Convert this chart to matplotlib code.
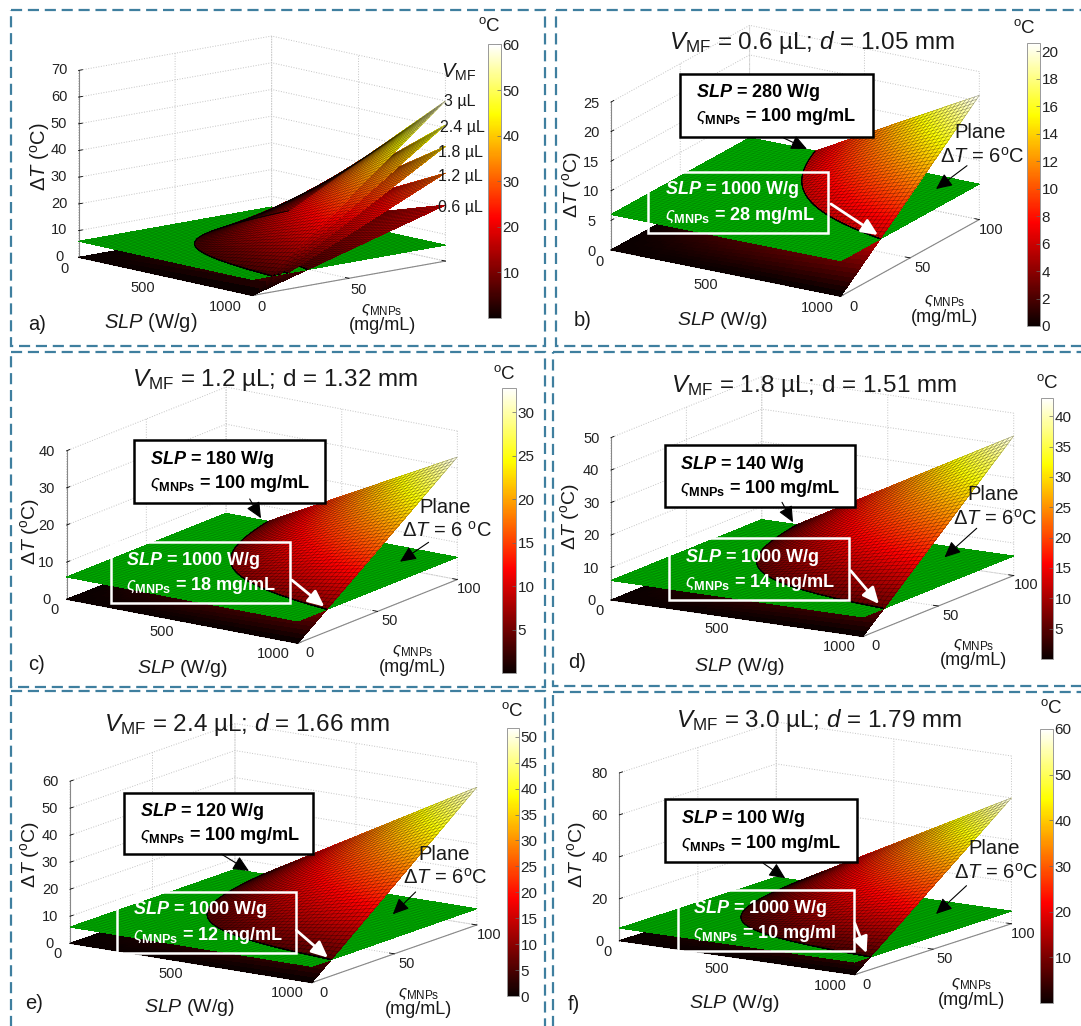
import numpy as np
import matplotlib
matplotlib.use("Agg")
import matplotlib.pyplot as plt
from matplotlib.patches import Rectangle
from matplotlib.cm import ScalarMappable
from matplotlib.colors import Normalize
from mpl_toolkits.mplot3d import proj3d

plt.rcParams.update({
    'font.family': ['Liberation Sans', 'DejaVu Sans'],
    'mathtext.fontset': 'custom',
    'mathtext.rm': 'Liberation Sans',
    'mathtext.it': 'Liberation Sans:italic',
    'mathtext.bf': 'Liberation Sans:bold',
    'mathtext.bfit': 'Liberation Sans:italic:bold',
    'mathtext.default': 'regular',
})

# ---------- data ----------
plane_dT = 6.0
slp_range = [0, 1000]
conc_range = [0, 100]
slp_ticks = [0, 500, 1000]
conc_ticks = [0, 50, 100]

volumes = ['0.6', '1.2', '1.8', '2.4', '3.0']
vol_labels = ['0.6 µL', '1.2 µL', '1.8 µL', '2.4 µL', '3 µL']
diameters = ['1.05', '1.32', '1.51', '1.66', '1.79']
peak_dT = [21.0, 33.0, 43.0, 51.0, 60.0]
slp_at_100 = [280, 180, 140, 120, 100]
conc_at_1000 = [28, 18, 14, 12, 10]

z_ticks_a = [0, 10, 20, 30, 40, 50, 60, 70]
z_ticks_b = [0, 5, 10, 15, 20, 25]
z_ticks_c = [0, 10, 20, 30, 40]
z_ticks_d = [0, 10, 20, 30, 40, 50]
z_ticks_e = [0, 10, 20, 30, 40, 50, 60]
z_ticks_f = [0, 20, 40, 60, 80]

cb_ticks_a = [10, 20, 30, 40, 50, 60]
cb_ticks_b = [0, 2, 4, 6, 8, 10, 12, 14, 16, 18, 20]
cb_ticks_c = [5, 10, 15, 20, 25, 30]
cb_ticks_d = [5, 10, 15, 20, 25, 30, 35, 40]
cb_ticks_e = [0, 5, 10, 15, 20, 25, 30, 35, 40, 45, 50]
cb_ticks_f = [10, 20, 30, 40, 50, 60]
cb_top = [60.0, 20.6, 32.8, 43.0, 51.7, 60.0]

# ---------- layout (pixels) ----------
W, H = 1081, 1026
fig = plt.figure(figsize=(W / 100, H / 100), dpi=100, facecolor='white')
ov = fig.add_axes([0, 0, 1, 1], zorder=20)
ov.set_xlim(0, W); ov.set_ylim(H, 0); ov.axis('off'); ov.patch.set_visible(False)

FRAME = '#3f7f9f'
frames = [(11, 10, 545, 346), (556, 10, 1095, 346), (11, 352, 545, 687),
          (553, 352, 1095, 686), (11, 691, 545, 1040), (553, 692, 1095, 1040)]
for x0, y0, x1, y1 in frames:
    ov.add_patch(Rectangle((x0, y0), x1 - x0, y1 - y0, fill=False, ec=FRAME, lw=1.6,
                           ls=(0, (5, 2.6)), clip_on=False))

cmap = plt.get_cmap('hot')
GREEN = '#00a800'
FS_TICK = 10.5
FS_BOX = 13


def place(ax, left, front, corner_l, corner_f):
    for _ in range(3):
        ax.apply_aspect()
        M = ax.get_proj()
        pts = []
        for c in (corner_l, corner_f):
            x, y, _z = proj3d.proj_transform(*c, M)
            pts.append(ax.transData.transform((x, y)))
        pL, pF = np.array(pts)
        tL = np.array([left[0], H - left[1]], float)
        tF = np.array([front[0], H - front[1]], float)
        s = np.linalg.norm(tF - tL) / np.linalg.norm(pF - pL)
        p = ax.get_position()
        side = p.width * W
        cen = np.array([(p.x0 + p.width / 2) * W, (p.y0 + p.height / 2) * H])
        pLn = cen + (pL - cen) * s
        cen2 = cen + (tL - pLn)
        side *= s
        ax.set_position([(cen2[0] - side / 2) / W, (cen2[1] - side / 2) / H, side / W, side / H])


def surf_low(ax, peak, vmax, n=46):
    s = np.linspace(*slp_range, n); c = np.linspace(*conc_range, n)
    S, C = np.meshgrid(s, c)
    Z = peak * S / slp_range[1] * C / conc_range[1]
    ax.plot_surface(S, C, Z, facecolors=cmap(Z / vmax), rstride=1, cstride=1, shade=False,
                    linewidth=0, antialiased=False, zorder=2)


def surf_high(ax, peak, vmax, zo, n=51):
    # rectangular mesh whose nodes below the plane are pulled onto the plane's intersection curve
    c0 = conc_range[1] * plane_dT / peak
    S, C = np.meshgrid(np.linspace(*slp_range, n), np.linspace(*conc_range, n))
    C = np.maximum(C, c0)
    S0 = slp_range[1] * plane_dT / (peak * C / conc_range[1])
    S = np.maximum(S, S0)
    Z = peak * S / slp_range[1] * C / conc_range[1]
    ax.plot_surface(S, C, Z, facecolors=cmap(Z / vmax), rstride=1, cstride=1, shade=False,
                    linewidth=0, antialiased=False, zorder=zo)
    ax.plot_wireframe(S, C, Z, rstride=1, cstride=1, color='black', linewidth=0.4, alpha=0.42, zorder=zo + 0.5)


def plane(ax, n=50):
    s = np.linspace(*slp_range, n); c = np.linspace(*conc_range, n)
    S, C = np.meshgrid(s, c)
    Z = np.full_like(S, plane_dT)
    ax.plot_surface(S, C, Z, color=GREEN, rstride=1, cstride=1, shade=False,
                    linewidth=0, antialiased=False, zorder=3)
    ax.plot_wireframe(S, C, Z, rstride=1, cstride=1, color='#003000', linewidth=0.25, alpha=0.35, zorder=3.5)


def axes3d(cfg):
    ax = fig.add_axes([0.2, 0.2, 0.4, 0.4 * W / H], projection='3d', computed_zorder=False, proj_type='ortho')
    ax.patch.set_visible(False)
    ax.view_init(elev=cfg['el'], azim=cfg['az'])
    ax.set_box_aspect((1, 1, cfg['ratio']), zoom=1)
    ztop = cfg['zt'][-1]
    ax.set_xlim(*slp_range, view_margin=0); ax.set_ylim(*conc_range, view_margin=0); ax.set_zlim(0, ztop, view_margin=0)
    ax.set_xticks(slp_ticks); ax.set_yticks(conc_ticks); ax.set_zticks(cfg['zt'])
    for a in (ax.xaxis, ax.yaxis, ax.zaxis):
        a.set_pane_color((1, 1, 1, 0))
        a.pane.set_edgecolor('#c8c8c8'); a.pane.set_linestyle(':'); a.pane.set_linewidth(0.8)
        a._axinfo['grid'].update(color='#c4c4c4', linewidth=0.7, linestyle=':')
        a.line.set_color('#888888'); a.line.set_linewidth(0.8)
        a._axinfo['tick'].update(inward_factor=0.0, outward_factor=0.25, linewidth={True: 0.6, False: 0.5}, color='#666666')
        a.set_tick_params(labelsize=FS_TICK, labelcolor='#222222', pad=cfg.get('pad', 0))
    ax.zaxis.set_ticks_position('lower')
    ax.zaxis.set_label_position('lower')
    ax.set_xticklabels([str(v) for v in slp_ticks], ha='right', va='center')
    ylabs = [str(v) for v in conc_ticks]
    if cfg.get('hide_y_top'):
        ylabs[-1] = ''
    ax.set_yticklabels(ylabs, ha='center', va='center')
    ax.set_zticklabels([str(v) for v in cfg['zt']], ha='center', va='center')
    return ax


def finish(ax, cfg):
    place(ax, cfg['L'], cfg['F'], (slp_range[0], conc_range[0], 0), (slp_range[1], conc_range[0], 0))


def cbar(box, top, ticks):
    x0, y0, x1, y1 = box
    cax = fig.add_axes([x0 / W, 1 - y1 / H, (x1 - x0) / W, (y1 - y0) / H])
    sm = ScalarMappable(Normalize(0, top), cmap)
    cb = fig.colorbar(sm, cax=cax, ticks=ticks)
    cb.outline.set_edgecolor('#999999'); cb.outline.set_linewidth(0.7)
    cax.tick_params(labelsize=11, length=3, width=0.5, color='#666666', direction='in', pad=1, labelcolor='#222222')


def T(x, y, s, size=12, ha='center', va='center', **kw):
    ov.text(x, y, s, fontsize=size, ha=ha, va=va, color=kw.pop('color', '#1a1a1a'), **kw)


def arrow(p, q, col, lw, ms=14):
    ov.annotate('', xy=q, xytext=p, annotation_clip=False,
                arrowprops=dict(arrowstyle='-|>,head_width=0.32,head_length=0.7', color=col, lw=lw,
                                shrinkA=0, shrinkB=0, mutation_scale=ms))


DT = r'$\Delta\mathit{T}$ ($^{\mathrm{o}}$C)'
SLPL = r'$\mathit{SLP}$ (W/g)'
CONC = r'$\mathit{\varsigma}_{\mathrm{MNPs}}$'

# ---------- panel a ----------
cfg_a = dict(el=11.4, az=-42, ratio=0.734, zt=z_ticks_a, L=(78.6, 257.3), F=(252.5, 295), hide_y_top=True)
ax = axes3d(cfg_a)
for p in peak_dT:
    surf_low(ax, p, peak_dT[-1], n=30)
plane(ax)
for i, p in enumerate(peak_dT):
    surf_high(ax, p, peak_dT[-1], 5 + i)
finish(ax, cfg_a)
cbar((487.5, 44.5, 501, 318), cb_top[0], cb_ticks_a)
T(40, 157, DT, 14.5, rotation=90)
T(151, 322.5, SLPL, 14.5)
T(382, 310, CONC, 12); T(382, 326, '(mg/mL)', 13)
T(28, 324, 'a)', 14.5, ha='left')
T(489, 26, '$^{\\mathrm{o}}$C', 13.5)
T(441, 72, r'$\mathit{V}_{\mathrm{MF}}$', 14.5, ha='left')
for lab, (x, y) in zip(vol_labels, [(437.7, 207.3), (438.5, 176.7), (438.5, 152.7), (440, 127.3), (443.7, 101.7)]):
    T(x, y, lab, 11.5, ha='left')

# ---------- panels b-f ----------
panels = [
    dict(letter='b)', i=0, el=19.5, az=-58.9, ratio=0.585, zt=z_ticks_b, L=(611, 250), F=(841, 295),
         cb=(1026.8, 43, 1040, 326), cbt=cb_ticks_b, cbi=1, title=(812, 42), italic_d=True,
         bb=(680.4, 74, 873.4, 137.3), bt=(696, 92.7, 116.7), ba=((783.7, 138), (807, 149)),
         wb=(648, 171.7, 828, 233), wt=(665, 190, 215), wa=((831, 204), (878, 235)),
         pl=(980, 133, 982, 157), pa=((967, 165.7), (936, 189)), dtl=(572, 185), sl=(722.7, 320.7),
         cl=(944.5, 301, 318), lt=(573.7, 320.7), oc=(1024.8, 27.7), plane_sp=''),
    dict(letter='c)', i=1, el=16, az=-55.4, ratio=0.55, zt=z_ticks_c, L=(66.6, 599.3), F=(298, 642.3),
         cb=(501.6, 388, 516.3, 673), cbt=cb_ticks_c, cbi=2, title=(275.3, 380), italic_d=False,
         bb=(134, 440, 324.5, 502.7), bt=(150, 459, 483.3), ba=((249.7, 499), (261, 518.3)),
         wb=(110.5, 542.3, 290.4, 603.3), wt=(125.6, 560.7, 585.7), wa=((291.8, 580), (324.4, 606.7)),
         pl=(445.5, 507.3, 447, 531), pa=((428.6, 542.3), (400, 561.7)), dtl=(29.8, 531.7), sl=(182.4, 668.3),
         cl=(413, 651, 667.7), lt=(28, 665), oc=(504.4, 374), plane_sp=' '),
    dict(letter='d)', i=2, el=14, az=-59.1, ratio=0.57, zt=z_ticks_d, L=(611, 600), F=(863, 636),
         cb=(1041, 398, 1053, 659), cbt=cb_ticks_d, cbi=3, title=(814, 386), italic_d=False,
         bb=(664.5, 445, 855.4, 507.3), bt=(680.4, 464.3, 488.3), ba=((782, 502.3), (793, 522.3)),
         wb=(668.5, 538.3, 848.7, 600), wt=(684.8, 557.3, 582.3), wa=((850.7, 570.7), (879, 604)),
         pl=(993.6, 495, 995, 519), pa=((976.7, 528.3), (944.5, 557.3)), dtl=(570.3, 516.7), sl=(739.6, 666.7),
         cl=(973.3, 645, 660.7), lt=(568.6, 662.7), oc=(1047, 383), plane_sp=''),
    dict(letter='e)', i=3, el=13.8, az=-55.7, ratio=0.57, zt=z_ticks_e, L=(70, 943.3), F=(312, 981.7),
         cb=(507, 728, 519, 996), cbt=cb_ticks_e, cbi=4, title=(247.3, 724.3), italic_d=True,
         bb=(123.5, 792.7, 313, 854.3), bt=(139.6, 811, 836), ba=((221.7, 854.3), (249, 871)),
         wb=(116.5, 891.7, 296.4, 952.7), wt=(132.6, 910, 936), wa=((296.4, 930.3), (328, 957.7)),
         pl=(443.7, 854.3, 445.5, 877.7), pa=((415.6, 892), (392.8, 914.3)), dtl=(29.8, 854.3), sl=(189.4, 1007.7),
         cl=(419, 993.7, 1010), lt=(25.3, 1003.3), oc=(512.8, 711), plane_sp=''),
    dict(letter='f)', i=4, el=12.5, az=-56.3, ratio=0.608, zt=z_ticks_f, L=(619.4, 940.7), F=(854.8, 973.3),
         cb=(1040, 729, 1053, 1003), cbt=cb_ticks_f, cbi=5, title=(819, 720.7), italic_d=True,
         bb=(665, 799.3, 856.5, 862.3), bt=(681.4, 818.3, 843.3), ba=((763.3, 863.3), (785.3, 878.3)),
         wb=(677.7, 890, 854, 950.7), wt=(693, 908.3, 933.3), wa=((854.8, 923.3), (866.6, 953.3)),
         pl=(994.6, 849, 996.3, 872.7), pa=((966.5, 885.7), (936, 914)), dtl=(577, 855), sl=(734.6, 1003.3),
         cl=(971.6, 984, 1000.7), lt=(567.6, 1004), oc=(1051.9, 708.3), plane_sp=''),
]

for P in panels:
    i = P['i']
    ax = axes3d(P)
    surf_low(ax, peak_dT[i], cb_top[P['cbi']])
    plane(ax)
    surf_high(ax, peak_dT[i], cb_top[P['cbi']], 5)
    finish(ax, P)
    cbar(P['cb'], cb_top[P['cbi']], P['cbt'])
    dvar = r'\mathit{d}' if P['italic_d'] else r'\mathrm{d}'
    T(*P['title'], rf"$\mathit{{V}}_{{\mathrm{{MF}}}}$ = {volumes[i]} µL; ${dvar}$ = {diameters[i]} mm", 17.5)
    x0, y0, x1, y1 = P['bb']
    ov.add_patch(Rectangle((x0, y0), x1 - x0, y1 - y0, fc='white', ec='black', lw=1.8, zorder=3))
    T(P['bt'][0], P['bt'][1], rf"$\mathbfit{{SLP}}$ = {slp_at_100[i]} W/g", FS_BOX, ha='left', weight='bold', color='black', zorder=4)
    T(P['bt'][0], P['bt'][2], rf"$\mathit{{\varsigma}}_{{\mathbf{{MNPs}}}}$ = 100 mg/mL", FS_BOX, ha='left', weight='bold', color='black', zorder=4)
    arrow(*P['ba'], 'black', 0.8)
    x0, y0, x1, y1 = P['wb']
    ov.add_patch(Rectangle((x0, y0), x1 - x0, y1 - y0, fill=False, ec='white', lw=1.8, zorder=3))
    last = 'mg/ml' if P['letter'] == 'f)' else 'mg/mL'
    T(P['wt'][0], P['wt'][1], rf"$\mathbfit{{SLP}}$ = 1000 W/g", FS_BOX, ha='left', weight='bold', color='white', zorder=4)
    T(P['wt'][0], P['wt'][2], rf"$\mathit{{\varsigma}}_{{\mathbf{{MNPs}}}}$ = {conc_at_1000[i]} {last}", FS_BOX, ha='left', weight='bold', color='white', zorder=4)
    arrow(*P['wa'], 'white', 2.0)
    T(P['pl'][0], P['pl'][1], 'Plane', 14.5)
    T(P['pl'][2], P['pl'][3], rf"$\Delta\mathit{{T}}$ = 6{P['plane_sp']}$^{{\mathrm{{o}}}}$C", 14.5)
    arrow(*P['pa'], 'black', 0.8)
    T(*P['dtl'], DT, 14, rotation=90)
    T(*P['sl'], SLPL, 14)
    T(P['cl'][0], P['cl'][1], CONC, 12); T(P['cl'][0], P['cl'][2], '(mg/mL)', 13)
    T(P['lt'][0], P['lt'][1], P['letter'], 14.5, ha='left')
    T(*P['oc'], '$^{\\mathrm{o}}$C', 13.5)

fig.savefig('out.png', dpi=100)
